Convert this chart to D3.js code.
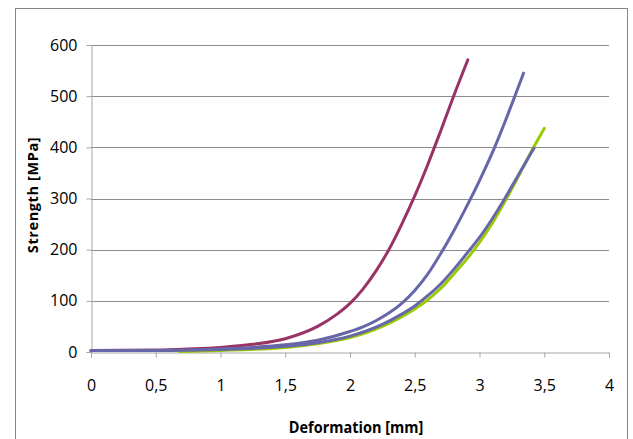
<!DOCTYPE html>
<html><head><meta charset="utf-8">
<script src="https://cdn.jsdelivr.net/npm/d3@7"></script>
<style>
html,body{margin:0;padding:0;background:#fff;}
svg{display:block;}
text{font-family:"Open Sans",sans-serif;fill:#000;}
</style></head>
<body>
<script>
// ---- data ----
const xTicks = [0, 0.5, 1, 1.5, 2, 2.5, 3, 3.5, 4];
const yTicks = [0, 100, 200, 300, 400, 500, 600];
const seriesNames = ["red", "blue1", "blue2", "green"];
const seriesColors = ["#993366", "#6666A8", "#6666A8", "#99CC00"];
const redX   = [0, 0.5, 0.75, 1, 1.25, 1.5, 1.75, 1.9, 2, 2.1, 2.2, 2.3, 2.4, 2.5, 2.6, 2.7, 2.8, 2.91];
const redY   = [3, 4, 6, 9, 15, 26, 50, 74, 95, 123, 158, 200, 250, 305, 366, 432, 500, 571];
const blue1X = [0, 0.5, 1, 1.25, 1.5, 1.75, 2, 2.1, 2.2, 2.3, 2.4, 2.5, 2.6, 2.7, 2.8, 2.9, 3.0, 3.1, 3.2, 3.27, 3.34];
const blue1Y = [3, 3, 6, 9, 14, 23, 40, 49, 61, 76, 95, 120, 152, 192, 236, 284, 335, 390, 452, 498, 545];
const blue2X = [0, 0.5, 1, 1.5, 1.75, 2, 2.25, 2.4, 2.5, 2.6, 2.7, 2.8, 2.9, 3.0, 3.1, 3.2, 3.3, 3.42];
const blue2Y = [3, 3, 5, 11, 18, 31, 54, 74, 90, 110, 133, 161, 192, 224, 261, 302, 346, 398];
const greenX = [0.68, 1, 1.5, 1.75, 2, 2.25, 2.5, 2.6, 2.7, 2.8, 2.9, 3.0, 3.1, 3.2, 3.3, 3.4, 3.5];
const greenY = [1, 3, 9, 16, 28, 50, 84, 102, 124, 152, 181, 214, 252, 296, 343, 392, 437];

const W = 633, H = 439;
const svg = d3.select("body").append("svg").attr("width", W).attr("height", H);

// outer chart frame
svg.append("rect").attr("x", 15.5).attr("y", 8.5).attr("width", 612).attr("height", 440)
  .attr("fill", "none").attr("stroke", "#868686").attr("stroke-width", 1);

const x = d3.scaleLinear().domain([0, 4]).range([91, 609]);
const y = d3.scaleLinear().domain([0, 600]).range([352, 45]);

// gridlines
svg.append("g").selectAll("line").data(yTicks.filter(d => d > 0)).join("line")
  .attr("x1", x(0)).attr("x2", x(4))
  .attr("y1", d => Math.round(y(d)) + 0.5).attr("y2", d => Math.round(y(d)) + 0.5)
  .attr("stroke", "#8c8c8c").attr("stroke-width", 1);

// y axis
const yAxis = svg.append("g").attr("transform", `translate(${Math.round(x(0)) + 0.5},0)`)
  .call(d3.axisLeft(y).tickValues(yTicks).tickSize(5).tickPadding(9).tickFormat(d3.format("d")));
yAxis.select(".domain").attr("stroke", "#a6a6a6");
yAxis.selectAll(".tick line").attr("stroke", "#a6a6a6");
yAxis.selectAll(".tick text").attr("font-size", 16).attr("font-family", "Open Sans");

// x axis
const fmtX = d => String(d).replace(".", ",");
const xAxis = svg.append("g").attr("transform", `translate(0,${Math.round(y(0)) + 0.5})`)
  .call(d3.axisBottom(x).tickValues(xTicks).tickSize(5).tickPadding(22).tickFormat(fmtX));
xAxis.select(".domain").attr("stroke", "#a6a6a6");
xAxis.selectAll(".tick line").attr("stroke", "#a6a6a6");
xAxis.selectAll(".tick text").attr("font-size", 16).attr("font-family", "Open Sans");

// titles
svg.append("text").attr("transform", "translate(356,433) scale(1,1.15)").attr("text-anchor", "middle")
  .attr("font-size", 14.5).attr("font-weight", "bold").text("Deformation [mm]");
svg.append("text").attr("transform", "translate(38,195) rotate(-90)").attr("text-anchor", "middle")
  .attr("font-size", 14.5).attr("font-weight", "bold").attr("letter-spacing", 0.6).text("Strength [MPa]");

// series
const seriesX = [redX, blue1X, blue2X, greenX];
const seriesY = [redY, blue1Y, blue2Y, greenY];
const order = [0, 1, 3, 2];
const line = d3.line().x(d => x(d[0])).y(d => y(d[1])).curve(d3.curveMonotoneX);
const gS = svg.append("g");
order.forEach(i => {
  const pts = seriesX[i].map((v, k) => [v, seriesY[i][k]]);
  gS.append("path").datum(pts).attr("class", "series-" + seriesNames[i])
    .attr("d", line).attr("fill", "none").attr("stroke", seriesColors[i])
    .attr("stroke-width", 3).attr("stroke-linecap", "round").attr("stroke-linejoin", "round");
});
</script>
</body></html>
